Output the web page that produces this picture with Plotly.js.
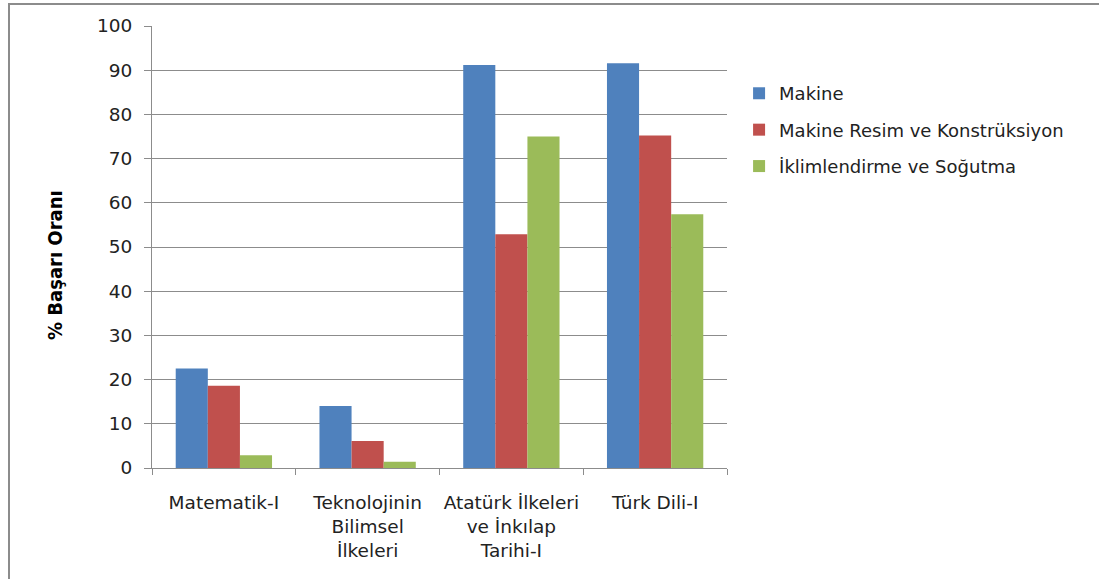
<!DOCTYPE html>
<html>
<head>
<meta charset="utf-8">
<script src="https://cdn.plot.ly/plotly-3.0.1.min.js"></script>
<style>
html,body{margin:0;padding:0;background:#fff;}
#chart{width:1099px;height:579px;}
#frame{position:absolute;left:8px;top:3px;width:1200px;height:700px;border:2px solid #8c8c8c;pointer-events:none;}
</style>
</head>
<body>
<div id="chart"></div>
<div id="frame"></div>
<script>
const categories = ["Matematik-I", "Teknolojinin<br>Bilimsel<br>İlkeleri", "Atatürk İlkeleri<br>ve İnkılap<br>Tarihi-I", "Türk Dili-I"];
const seriesNames = ["Makine", "Makine Resim ve Konstrüksiyon", "İklimlendirme ve Soğutma"];
const makine = [22.5, 14.0, 91.2, 91.6];
const makineResim = [18.6, 6.1, 52.9, 75.2];
const iklimlendirme = [2.9, 1.4, 75.0, 57.4];
const colors = ["#4f81bd", "#c0504d", "#9bbb59"];
const yTicks = [0, 10, 20, 30, 40, 50, 60, 70, 80, 90, 100];
const yTitle = "% Başarı Oranı";

const allValues = [makine, makineResim, iklimlendirme];
const traces = allValues.map((vals, i) => ({
  type: "bar",
  name: seriesNames[i],
  x: categories,
  y: vals,
  legendgroup: "g" + i,
  marker: {color: colors[i], line: {width: 0}},
  hoverinfo: "x+y+name"
}));

const layout = {
  width: 1099,
  height: 579,
  margin: {l: 152, r: 372, t: 26, b: 111},
  paper_bgcolor: "#ffffff",
  plot_bgcolor: "#ffffff",
  barmode: "group",
  bargap: 0.33,
  bargroupgap: 0,
  font: {family: "DejaVu Sans, sans-serif", size: 15, color: "#222"},
  xaxis: {
    type: "category",
    showline: true,
    linecolor: "#8c8c8c",
    linewidth: 1,
    ticks: "outside",
    tickson: "boundaries",
    ticklen: 6,
    tickcolor: "#8c8c8c",
    ticklabelstandoff: 18,
    tickangle: 0,
    showgrid: false,
    tickfont: {family: "DejaVu Sans, sans-serif", size: 18.5, color: "#222"},
    fixedrange: true
  },
  yaxis: {
    range: [0, 100],
    tickvals: yTicks,
    ticktext: yTicks.map(String),
    showline: true,
    linecolor: "#8c8c8c",
    linewidth: 1,
    ticks: "outside",
    ticklen: 7,
    tickcolor: "#8c8c8c",
    ticklabelstandoff: 8,
    showgrid: true,
    gridcolor: "#8c8c8c",
    gridwidth: 1,
    zeroline: false,
    tickfont: {family: "DejaVu Sans, sans-serif", size: 18.5, color: "#222"},
    fixedrange: true
  },
  annotations: [{
    text: yTitle,
    xref: "paper", yref: "paper",
    x: -0.169, y: 0.459,
    xanchor: "center", yanchor: "middle",
    textangle: -90,
    showarrow: false,
    font: {family: "Liberation Sans Narrow, DejaVu Sans Condensed, sans-serif", size: 20, weight: "bold", color: "#000"}
  }],
  showlegend: true,
  legend: {
    x: 1.021,
    y: 0.889,
    xanchor: "left",
    yanchor: "top",
    traceorder: "grouped",
    tracegroupgap: 10,
    font: {family: "DejaVu Sans, sans-serif", size: 18, color: "#222"},
    itemwidth: 30,
    bgcolor: "rgba(0,0,0,0)"
  }
};

Plotly.newPlot("chart", traces, layout, {displayModeBar: false, staticPlot: true});
</script>
</body>
</html>
